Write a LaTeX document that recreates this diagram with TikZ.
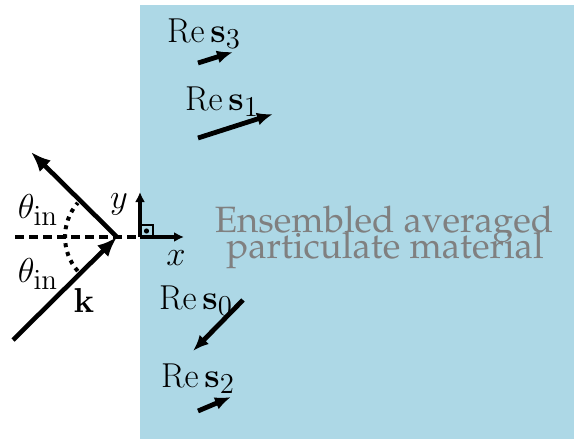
\documentclass[tikz,border=0pt]{standalone}
\usepackage[T1,TU]{fontenc}
\usetikzlibrary{arrows.meta}
\definecolor{matblue}{RGB}{173,216,230}

\tikzset{
  vec/.style={line width=2.4pt, -{Latex[length=8pt,width=6.5pt]}},
  wave/.style={line width=2.3pt, -{Latex[length=10pt,width=8pt]}},
  axis/.style={line width=1.6pt, -{Latex[length=5pt,width=5pt]}},
  lbl/.style={font=\fontsize{19}{22}\selectfont, inner sep=0pt, anchor=base},
  note/.style={font=\fontencoding{T1}\fontfamily{ppl}\fontsize{18.3}{20}\selectfont,
    text=gray, inner sep=0pt, anchor=base},
}

\begin{document}
\begin{tikzpicture}[x=0.5pt, y=-0.5pt]
\useasboundingbox (0,0) rectangle (574,439);

% material
\fill[matblue] (140,5) rectangle (574,439);
\node[note] (mat1) at (384,232) {Ensembled averaged};
\node[note] (mat2) at (385,258) {particulate material};

% incident and reflected wave
\coordinate (hit) at (117,237);
\coordinate (src) at (13,340);
\coordinate (refl) at (31,152);
\coordinate (O) at (140,237);
\coordinate (dl) at (15,237);
\draw[line width=2.4pt, dash pattern=on 4.5pt off 2.5pt] (dl) -- (O);
\draw[wave] (src) -- (hit);
\draw[wave] (hit) -- (refl);
\draw[line width=2pt, dash pattern=on 2pt off 2.5pt] ([shift={(139:52)}]hit) arc (139:221:52);

\node[lbl] (thu) at (38,218) {$\theta_{\mathrm{in}}$};
\node[lbl] (thl) at (38,282) {$\theta_{\mathrm{in}}$};
\node[lbl] (k) at (84,312) {$\mathbf{k}$};

% axes
\coordinate (ytip) at (140,192);
\coordinate (xtip) at (184,237);
\draw[axis] (O) -- (ytip);
\draw[axis] (O) -- (xtip);
\draw[line width=1pt] (140,225) -- (152.5,225) -- (152.5,237);
\fill (146.5,231) circle (1.3pt);
\node[lbl] (y) at (119,208) {$y$};
\node[lbl] (x) at (176,265) {$x$};

% real parts of the vectors
\node[lbl] (res3) at (204,42) {$\mathrm{Re}\,\mathbf{s}_3$};
\coordinate (s3a) at (198,63);
\coordinate (s3b) at (233,52);
\draw[vec] (s3a) -- (s3b);

\node[lbl] (res1) at (222,110) {$\mathrm{Re}\,\mathbf{s}_1$};
\coordinate (s1a) at (198,138);
\coordinate (s1b) at (273,114);
\draw[vec] (s1a) -- (s1b);

\node[lbl] (res0) at (196,309) {$\mathrm{Re}\,\mathbf{s}_0$};
\coordinate (s0a) at (243,300);
\coordinate (s0b) at (193,351);
\draw[vec] (s0a) -- (s0b);

\node[lbl] (res2) at (198,387) {$\mathrm{Re}\,\mathbf{s}_2$};
\coordinate (s2a) at (198,411);
\coordinate (s2b) at (231,397);
\draw[vec] (s2a) -- (s2b);
\end{tikzpicture}
\end{document}
